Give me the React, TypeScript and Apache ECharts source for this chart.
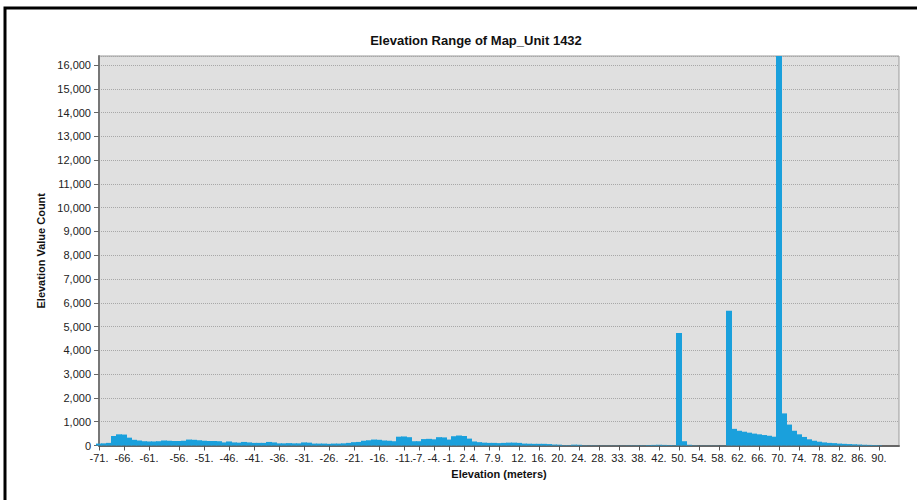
import React, { useEffect, useRef } from "react";
import * as echarts from "echarts";

// Histogram bin elevations (metres), as listed by the source histogram
const elevations: number[] = [
  -71.4, -70.4, -69.4, -68.4, -67.4, -66.4, -65.4, -64.4, -63.4, -62.4, -61.4,
  -60.6, -59.7, -58.9, -58.1, -57.2, -56.4,
  -55.4, -54.4, -53.4, -52.4, -51.4, -50.4, -49.4, -48.4, -47.4, -46.4,
  -45.4, -44.4, -43.4, -42.4, -41.4, -40.4, -39.4, -38.4, -37.4, -36.4,
  -35.4, -34.4, -33.4, -32.4, -31.4, -30.4, -29.4, -28.4, -27.4, -26.4,
  -25.4, -24.4, -23.4, -22.4, -21.4, -20.4, -19.4, -18.4, -17.4, -16.4,
  -15.4, -14.4, -13.4, -12.4, -11.4,
  -10.1, -8.7, -7.4, -6.4, -5.4, -4.4, -3.4, -2.4, -1.4,
  -0.3, 1.0, 2.3, 3.3, 4.3, 5.3, 6.3, 7.3, 8.3, 9.3,
  10.0, 10.8, 11.5, 12.3, 13.3, 14.3, 15.3, 16.3, 17.3, 18.3, 19.3, 20.3,
  21.3, 22.3, 23.3, 24.3, 25.3, 26.3, 27.3, 28.3,
  29.5, 30.8, 32.0, 33.3, 34.5, 35.8, 37.0, 38.3,
  39.3, 40.3, 41.3, 42.3, 44.3, 46.3, 48.3, 50.3,
  51.3, 52.3, 53.3, 54.3, 55.3, 56.3, 57.3, 58.3, 59.3, 60.3, 61.3, 62.3,
  63.3, 64.3, 65.3, 66.3, 67.3, 68.3, 69.3, 70.3, 71.3, 72.3, 73.3, 74.3,
  75.3, 76.3, 77.3, 78.3, 79.3, 80.3, 81.3, 82.3, 83.3, 84.3, 85.3, 86.3,
  87.3, 88.3, 89.3, 90.3, 91.3, 92.3, 93.3, 94.3,
];

// Elevation value count for each bin
const counts: number[] = [
  80, 90, 110, 400, 470, 460, 330, 240, 210, 180,
  170, 170, 180, 210, 200, 190, 190, 200, 250, 240,
  220, 200, 190, 190, 180, 130, 170, 130, 120, 150,
  130, 110, 110, 110, 150, 130, 90, 90, 100, 90,
  90, 130, 120, 80, 80, 80, 70, 80, 80, 90,
  110, 140, 150, 200, 220, 250, 240, 210, 200, 180,
  370, 380, 350, 180, 180, 270, 280, 260, 350, 340,
  250, 390, 420, 400, 290, 170, 140, 120, 110, 110,
  100, 110, 120, 120, 110, 80, 75, 70, 70, 70,
  60, 40, 35, 15, 15, 35, 30, 10, 8, 8,
  5, 5, 5, 5, 5, 5, 8, 8, 10, 10,
  20, 25, 30, 25, 20, 15, 4730, 180, 30, 10,
  5, 5, 5, 5, 5, 5, 5670, 700, 620, 580,
  540, 500, 470, 440, 410, 370, 16380, 1350, 880, 620,
  470, 360, 260, 200, 160, 130, 110, 100, 80, 70,
  60, 50, 40, 30, 25, 20, 15, 0, 0, 0,
  0,
];

// Tick labels shown on the elevation axis
const tickLabels: string[] = [
  "-71", "-66", "-61", "-56", "-51", "-46", "-41", "-36", "-31", "-26",
  "-21", "-16", "-11", "-7", "-4", "-1", "2", "4", "7", "9",
  "12", "16", "20", "24", "28", "33", "38", "42", "50", "54",
  "58", "62", "66", "70", "74", "78", "82", "86", "90",
];

const yMax = 16380;

const shownIdx: Set<number> = (() => {
  const s = new Set<number>();
  const seen = new Set<string>();
  elevations.forEach((e, i) => {
    const t = String(Math.trunc(e));
    if (tickLabels.includes(t) && !seen.has(t)) {
      seen.add(t);
      s.add(i);
    }
  });
  return s;
})();

export default function App() {
  const ref = useRef<HTMLDivElement>(null);
  useEffect(() => {
    if (!ref.current) return;
    const chart = echarts.init(ref.current, null, { renderer: "svg" });
    const font = "'Liberation Sans', Arial, sans-serif";
    const barColor = "#1AA0DC";
    chart.setOption({
      animation: false,
      backgroundColor: "#ffffff",
      textStyle: { fontFamily: font },
      title: {
        text: "Elevation Range of Map_Unit 1432",
        left: 471,
        top: 29,
        textAlign: "center",
        textStyle: { fontSize: 13, fontWeight: "bold", color: "#111", fontFamily: font },
      },
      graphic: [
        {
          type: "rect",
          shape: { x: 5, y: 8, width: 1000, height: 1000 },
          style: { fill: "none", stroke: "#000", lineWidth: 3 },
          silent: true,
        },
      ],
      grid: {
        left: 99,
        top: 56,
        width: 800,
        height: 389.5,
        show: true,
        backgroundColor: "#E0E0E0",
        borderColor: "#9a9a9a",
        borderWidth: 1,
      },
      xAxis: {
        type: "category",
        data: elevations.map(String),
        boundaryGap: false,
        name: "Elevation (meters)",
        nameLocation: "middle",
        nameGap: 23,
        nameTextStyle: { fontWeight: "bold", fontSize: 11, color: "#111", fontFamily: font },
        axisLine: { lineStyle: { color: "#666", width: 2 } },
        axisTick: {
          interval: (i: number) => shownIdx.has(i),
          length: 5,
          lineStyle: { color: "#555", width: 1 },
        },
        axisLabel: {
          interval: (i: number) => shownIdx.has(i),
          formatter: (v: string) => `${Math.trunc(Number(v))}.`,
          fontSize: 11,
          color: "#222",
          margin: 7,
          fontFamily: font,
        },
        splitLine: { show: false },
      },
      yAxis: {
        type: "value",
        min: 0,
        max: yMax,
        interval: 1000,
        name: "Elevation Value Count",
        nameLocation: "middle",
        nameGap: 48,
        nameTextStyle: { fontWeight: "bold", fontSize: 11, color: "#111", fontFamily: font },
        axisLine: { show: true, lineStyle: { color: "#777", width: 2 } },
        axisTick: { show: true, length: 5, lineStyle: { color: "#666" } },
        axisLabel: {
          fontSize: 11,
          color: "#222",
          margin: 8,
          showMaxLabel: false,
          fontFamily: font,
          formatter: (v: number) => (v % 1000 === 0 ? v.toLocaleString("en-US") : ""),
        },
        splitLine: { show: true, lineStyle: { color: "#a8a8a8", type: "dotted", width: 1 } },
      },
      series: [
        {
          type: "bar",
          data: counts,
          barWidth: 6,
          itemStyle: { color: barColor },
        },
      ],
    });
    return () => chart.dispose();
  }, []);
  return (
    <div
      ref={ref}
      style={{ position: "fixed", left: 0, top: 0, width: 917, height: 500 }}
    />
  );
}
